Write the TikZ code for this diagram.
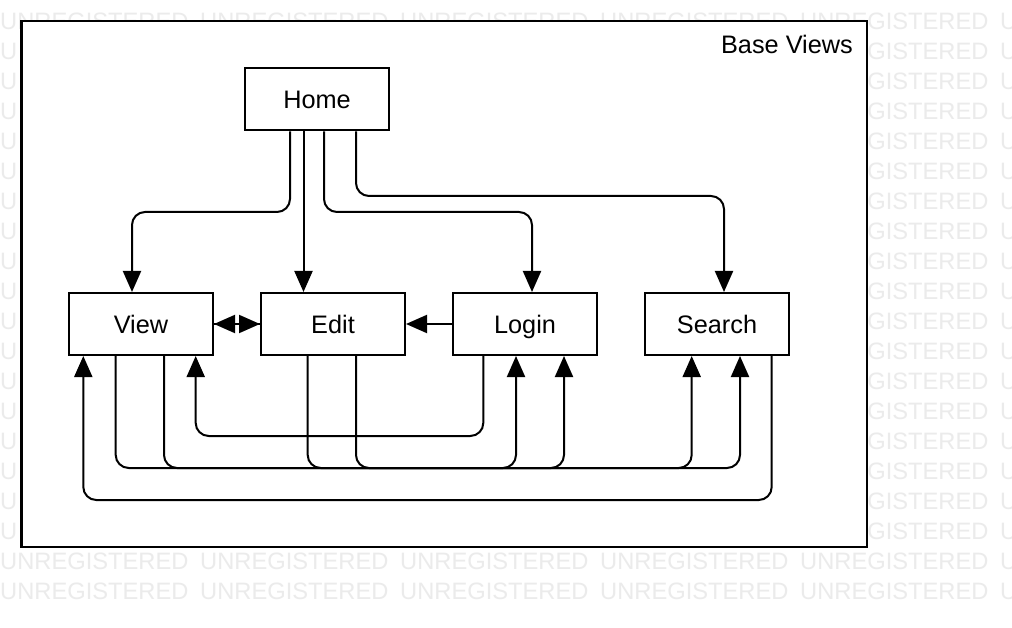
\documentclass[tikz,border=0pt]{standalone}
\usepackage{fontspec}
\setmainfont{Liberation Sans}
\usetikzlibrary{arrows.meta,calc}
\newcommand{\wmfont}{\fontsize{23.7}{28}\selectfont}
\newlength{\unrew}
\begin{document}
\settowidth{\unrew}{\wmfont UNRE}
\begin{tikzpicture}[x=1pt,y=-1pt,
  box/.style={draw,line width=2pt,minimum width=144pt,minimum height=62pt,inner sep=0pt,
    font=\fontsize{25.3}{29}\selectfont,text height=18.1pt,text depth=0pt},
  conn/.style={line width=2pt,rounded corners=13pt,-{Triangle[length=21pt,width=18pt]}},
  wm/.style={text=black!8,font=\wmfont,anchor=base west,inner sep=0pt},
  framebox/.style={draw,fill=white,line width=2.5pt,inner sep=0pt,outer sep=0pt,
    minimum width=845.5pt,minimum height=525.5pt},
  title/.style={anchor=base east,inner sep=0pt,font=\fontsize{25.3}{29}\selectfont}]
\useasboundingbox (0,0) rectangle (1012,628);
\fill[white] (0,0) rectangle (1012,628);
% watermark (only the parts that show)
\begin{scope}
\clip (0,0) rectangle (1012,628);
\foreach \b [count=\r] in {29.5,569.5,599.5}{
  \foreach \c in {0,...,4}{
    \node[wm] (wmfull-\r-\c) at ({200*\c},\b) {UNREGISTERED};
  }
  \node[wm] (wmfull-\r-5) at (1000,\b) {U};
}
\foreach \k in {1,...,17}{
  \node[wm] (wmleft-\k) at (0,{29.5+30*\k}) {U};
  \node[wm,xshift=\unrew] (wmright-\k) at (800,{29.5+30*\k}) {GISTERED};
  \node[wm] (wmedge-\k) at (1000,{29.5+30*\k}) {U};
}
\end{scope}
% frame
\node[framebox] (frame) at (444,284) {};
\node[title] (basetitle) at (853,54) {Base Views};
% boxes
\node[box] (Home) at (317,99.5) {Home};
\node[box] (View) at (141,324) {View};
\node[box] (Edit) at (333,324) {Edit};
\node[box] (Login) at (525,324) {Login};
\node[box] (Search) at (717,324) {Search};
% top connectors
\draw[conn] ([xshift=-27pt]Home.south) -- ++(0,80.5) -| ([xshift=-9pt]View.north);
\draw[conn] ([xshift=-13.5pt]Home.south) -- ([xshift=-29.5pt]Edit.north);
\draw[conn] ([xshift=7pt]Home.south) -- ++(0,80.5) -| ([xshift=7pt]Login.north);
\draw[conn] ([xshift=39pt]Home.south) -- ++(0,64.5) -| ([xshift=7pt]Search.north);
% horizontal connectors
\draw[conn] (Edit.west) -- (View.east);
\draw[conn] (View.east) -- (Edit.west);
\draw[conn] (Login.west) -- (Edit.east);
% bottom connectors
\draw[conn] ([xshift=54.7pt]Search.south) -- ++(0,144) -| ([xshift=-57.7pt]View.south);
\draw[conn] ([xshift=-41.7pt]Login.south) -- ++(0,80) -| ([xshift=54.7pt]View.south);
\draw[conn] ([xshift=-25.3pt]View.south) -- ++(0,112) -| ([xshift=23pt]Search.south);
\draw[conn] ([xshift=23pt]View.south) -- ++(0,112) -| ([xshift=39pt]Login.south);
\draw[conn] ([xshift=-25.3pt]Edit.south) -- ++(0,112) -| ([xshift=-9pt]Login.south);
\draw[conn] ([xshift=23pt]Edit.south) -- ++(0,112) -| ([xshift=-25.3pt]Search.south);
\end{tikzpicture}
\end{document}
